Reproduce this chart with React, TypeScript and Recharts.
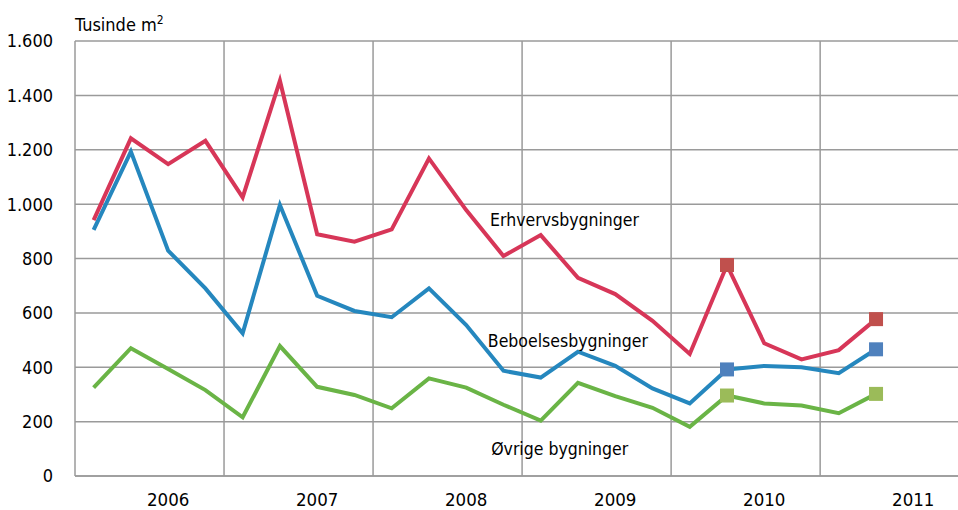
import React from 'react';
import {
  LineChart,
  Line,
  XAxis,
  YAxis,
  CartesianGrid,
  ReferenceLine,
  ReferenceDot,
} from 'recharts';

// kvartalsvise værdier, 2006K1 - 2011K2 (tusinde m2)
const years = ['2006', '2007', '2008', '2009', '2010', '2011'];
const erhverv = [941, 1242, 1147, 1233, 1025, 1454, 889, 862, 907, 1168, 978, 809, 886, 729, 669, 571, 449, 776, 488, 429, 463, 577];
const beboelse = [905, 1193, 829, 690, 525, 997, 663, 607, 584, 690, 555, 387, 362, 457, 405, 322, 267, 392, 405, 400, 378, 466];
const ovrige = [325, 470, 394, 316, 216, 478, 328, 298, 249, 359, 325, 262, 204, 343, 294, 251, 181, 296, 267, 259, 231, 302];
// kvartaler der er markeret med firkant
const markedIdx = [17, 21];
const yTicks = [0, 200, 400, 600, 800, 1000, 1200, 1400, 1600];
const yearTicks = [2, 6, 10, 14, 18, 22];
const yearBounds = [3.5, 7.5, 11.5, 15.5, 19.5];

const data = erhverv.map((v, i) => ({
  idx: i,
  erhverv: v,
  beboelse: beboelse[i],
  ovrige: ovrige[i],
  erhvervMark: markedIdx.includes(i) ? v : null,
  beboelseMark: markedIdx.includes(i) ? beboelse[i] : null,
  ovrigeMark: markedIdx.includes(i) ? ovrige[i] : null,
}));

const FONT = "'Liberation Sans Narrow', 'DejaVu Sans Condensed', sans-serif";
const GRID = '#9a9a9a';
const TEXT = '#000';

const fmt = (v: number) => String(v).replace(/\B(?=(\d{3})+(?!\d))/g, '.');

const square = (color: string) => (props: any) => {
  const { cx, cy, value, index } = props;
  if (value == null || cy == null) return <g key={index} />;
  return <rect key={index} x={cx - 7} y={cy - 7} width={14} height={14} fill={color} />;
};

const seriesLabel = (x: number, y: number, text: string) => (
  <ReferenceDot
    x={x}
    y={y}
    r={1}
    fill="none"
    stroke="none"
    label={{ value: text, position: 'center', fill: TEXT, fontSize: 17.5, fontFamily: FONT }}
  />
);

export default function App() {
  return (
    <div style={{ position: 'relative', width: 958, height: 510, fontFamily: FONT }}>
      <style>{'body{margin:0}'}</style>
      <div style={{ position: 'absolute', left: 75, top: 14, fontSize: 18, lineHeight: 1, color: TEXT }}>
        Tusinde m<sup style={{ fontSize: 12 }}>2</sup>
      </div>
      <LineChart width={958} height={510} data={data} margin={{ top: 41, right: 0, bottom: 0, left: 0 }}>
        <CartesianGrid vertical={false} stroke={GRID} strokeWidth={1.5} />
        <XAxis
          dataKey="idx"
          type="number"
          domain={[-0.5, 23.2]}
          allowDataOverflow
          ticks={yearTicks}
          tickFormatter={(i: number) => years[(i - 2) / 4]}
          height={34}
          axisLine={{ stroke: GRID, strokeWidth: 1.5 }}
          tickLine={false}
          tickSize={0}
          tickMargin={17}
          tick={{ fill: TEXT, fontSize: 18.5, fontFamily: FONT }}
        />
        <YAxis
          domain={[0, 1600]}
          ticks={yTicks}
          tickFormatter={fmt}
          width={75}
          axisLine={{ stroke: GRID, strokeWidth: 1.5 }}
          tickLine={false}
          tickSize={0}
          tickMargin={22}
          tick={{ fill: TEXT, fontSize: 18, fontFamily: FONT }}
        />
        {yearBounds.map((b) => (
          <ReferenceLine key={b} x={b} stroke={GRID} strokeWidth={1.5} />
        ))}
        <Line dataKey="ovrige" stroke="#6ab446" strokeWidth={4} dot={false} isAnimationActive={false} />
        <Line dataKey="beboelse" stroke="#2587be" strokeWidth={4} dot={false} isAnimationActive={false} />
        <Line dataKey="erhverv" stroke="#d73658" strokeWidth={4} dot={false} isAnimationActive={false} />
        <Line dataKey="ovrigeMark" stroke="none" dot={square('#9bbb59')} isAnimationActive={false} />
        <Line dataKey="beboelseMark" stroke="none" dot={square('#4f81bd')} isAnimationActive={false} />
        <Line dataKey="erhvervMark" stroke="none" dot={square('#c0504d')} isAnimationActive={false} />
        {seriesLabel(12.64, 942, 'Erhvervsbygninger')}
        {seriesLabel(12.73, 497, 'Beboelsesbygninger')}
        {seriesLabel(12.51, 101, 'Øvrige bygninger')}
      </LineChart>
    </div>
  );
}
